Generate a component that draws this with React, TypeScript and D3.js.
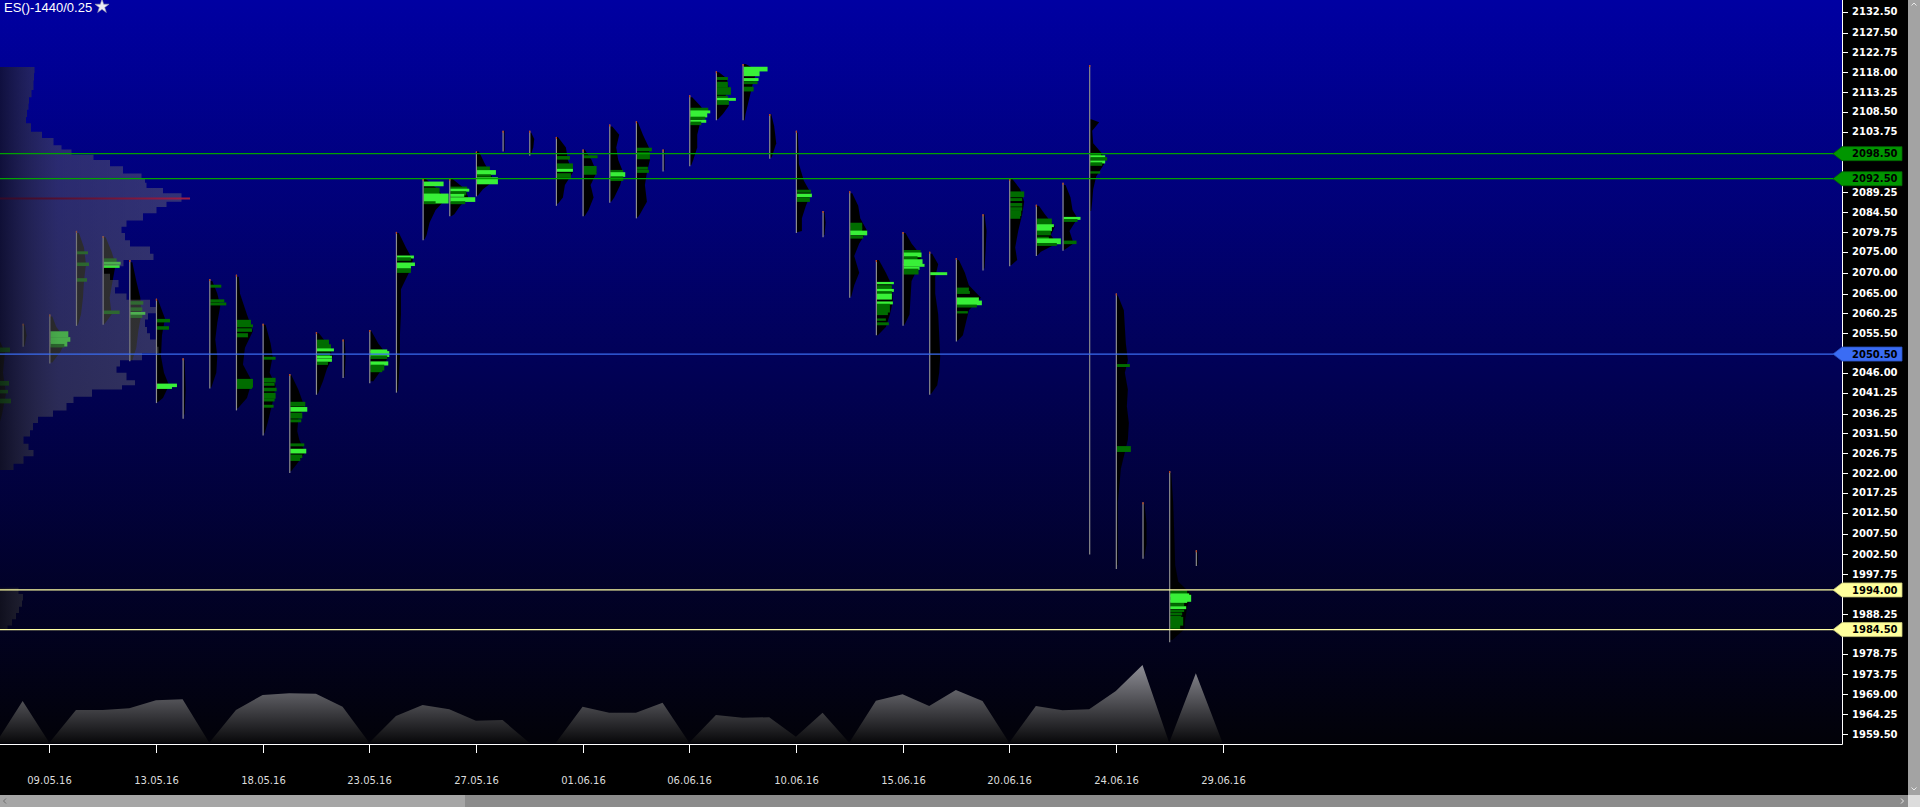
import React, { useEffect } from 'react';
import * as d3 from 'd3';

// ---------- DATA ----------
const title = 'ES()-1440/0.25';

const dates = [
  '06.05.16', '08.05.16', '09.05.16', '10.05.16', '11.05.16', '12.05.16', '13.05.16',
  '15.05.16', '16.05.16', '17.05.16', '18.05.16', '19.05.16', '20.05.16',
  '22.05.16', '23.05.16', '24.05.16', '25.05.16', '26.05.16', '27.05.16',
  '29.05.16', '30.05.16', '31.05.16', '01.06.16', '02.06.16', '03.06.16',
  '05.06.16', '06.06.16', '07.06.16', '08.06.16', '09.06.16', '10.06.16',
  '12.06.16', '13.06.16', '14.06.16', '15.06.16', '16.06.16', '17.06.16',
  '19.06.16', '20.06.16', '21.06.16', '22.06.16', '23.06.16', '24.06.16',
  '26.06.16', '27.06.16', '28.06.16', '29.06.16',
];

const tickDates = ['09.05.16', '13.05.16', '18.05.16', '23.05.16', '27.05.16', '01.06.16',
  '06.06.16', '10.06.16', '15.06.16', '20.06.16', '24.06.16', '29.06.16'];

const priceTicks = [2132.5, 2127.5, 2122.75, 2118, 2113.25, 2108.5, 2103.75, 2099, 2094,
  2089.25, 2084.5, 2079.75, 2075, 2070, 2065, 2060.25, 2055.5, 2050.75, 2046, 2041.25,
  2036.25, 2031.5, 2026.75, 2022, 2017.25, 2012.5, 2007.5, 2002.5, 1997.75, 1993, 1988.25,
  1983.5, 1978.75, 1973.75, 1969, 1964.25, 1959.5];

// daily bars (06.05 .. 28.06)
const highs = [2054, 2057.75, 2060, 2080, 2078.75, 2073, 2063.75, 2049.5, 2068.5, 2069.5,
  2057.75, 2045.75, 2055.75, 2054, 2056.25, 2079.75, 2092.5, 2092.5, 2099, 2104, 2104,
  2102.5, 2099.5, 2105.5, 2106.25, 2099.5, 2112.5, 2118.25, 2120, 2108, 2104, 2084.75,
  2089.5, 2073, 2079.75, 2075, 2073.5, 2084, 2092.5, 2086.25, 2091.5, 2119.75, 2065,
  2015, 2022.5, 2003.5];
const lows = [2032, 2052.25, 2048.25, 2057.25, 2057.5, 2048.75, 2038.75, 2035, 2042.25,
  2037, 2031, 2022, 2040.75, 2044.75, 2043.5, 2041.25, 2077.75, 2083.5, 2088.25, 2099,
  2098, 2086, 2083.5, 2086.75, 2083, 2094.25, 2095.5, 2106.5, 2106.5, 2097.25, 2079.5,
  2078.5, 2064, 2055, 2057.25, 2040.75, 2053.5, 2070.5, 2071.5, 2074, 2075.25, 2002.5,
  1999, 2001.5, 1981.5, 1999.75];

// per-bar volume profile outline: [price, volume]
const blackProfiles: [number, number][][] = [
  [[2054, 2], [2051, 8], [2046, 6], [2041, 9], [2036, 5], [2032.5, 1]],
  [[2057.5, 1], [2055, 3], [2052.5, 1]],
  [[2059.5, 2], [2057, 6], [2054, 16], [2051, 10], [2048.5, 2]],
  [[2079.5, 2], [2076, 7], [2072, 9], [2068, 7], [2064, 6], [2060, 4], [2057.5, 1]],
  [[2078.5, 2], [2075, 8], [2072, 12], [2068, 9], [2064, 6], [2060, 8], [2057.75, 1]],
  [[2072.5, 2], [2068, 6], [2064, 10], [2060, 11], [2056, 8], [2052, 6], [2049, 2]],
  [[2063.5, 1], [2059, 8], [2055, 5], [2050, 4], [2046, 7], [2043, 12], [2040, 6], [2039, 1]],
  [[2049, 1], [2042, 2], [2036, 1]],
  [[2068, 2], [2065, 7], [2062, 10], [2058, 7], [2054, 5], [2050, 7], [2046, 6], [2042.5, 1]],
  [[2069, 2], [2065, 3], [2060, 10], [2056, 16], [2052, 8], [2048, 6], [2044, 15], [2040, 10], [2037.5, 1]],
  [[2057.5, 2], [2053, 7], [2050, 9], [2046, 6], [2043, 12], [2040, 10], [2037, 7], [2034, 4], [2031.5, 1]],
  [[2045.5, 1], [2042, 8], [2038, 14], [2035, 8], [2032, 7], [2030, 9], [2027, 15], [2024, 6], [2022.5, 1]],
  [[2055.5, 2], [2053, 10], [2050, 16], [2047, 10], [2044, 6], [2041, 1]],
  [[2054, 1], [2050, 2], [2045, 1]],
  [[2056, 1], [2053, 8], [2050, 18], [2047, 12], [2044, 3]],
  [[2079.5, 2], [2076, 9], [2073, 16], [2070, 12], [2066, 4], [2060, 4], [2055, 3], [2050, 3], [2045, 2], [2041.5, 1]],
  [[2092.5, 2], [2090, 14], [2087.5, 22], [2085, 12], [2082, 6], [2079, 3], [2078, 1]],
  [[2092.5, 2], [2090, 15], [2088, 18], [2086, 10], [2084, 4], [2083.5, 1]],
  [[2099, 2], [2096, 8], [2094, 13], [2092, 17], [2090, 6], [2088.5, 1]],
  [[2104, 1], [2101, 1], [2099, 1]],
  [[2103.5, 1], [2102, 4], [2100, 3], [2098.5, 1]],
  [[2102.5, 1], [2100, 9], [2097, 11], [2094, 16], [2091, 8], [2088, 6], [2086.5, 1]],
  [[2099.5, 1], [2097, 8], [2094, 13], [2091, 7], [2088, 10], [2085, 5], [2083.5, 1]],
  [[2105, 2], [2103, 9], [2100, 6], [2097, 8], [2094, 13], [2091, 10], [2088, 4], [2087, 1]],
  [[2106, 1], [2103, 6], [2100, 12], [2097, 13], [2094, 10], [2091, 8], [2087, 10], [2084, 3], [2083.25, 1]],
  [[2099.5, 1], [2097, 1], [2094.5, 1]],
  [[2112, 2], [2110, 10], [2108, 16], [2106, 10], [2103, 7], [2100, 7], [2097, 3], [2095.75, 1]],
  [[2118, 2], [2116.5, 10], [2114, 12], [2112, 8], [2110, 12], [2108, 6], [2106.75, 1]],
  [[2120, 2], [2118.5, 14], [2116, 10], [2114, 8], [2111, 5], [2108, 2], [2106.5, 1]],
  [[2108, 1], [2105, 4], [2101, 6], [2098, 2], [2097.5, 1]],
  [[2103.5, 1], [2096, 2], [2092, 7], [2089, 14], [2086, 9], [2083, 5], [2080, 5], [2079.75, 1]],
  [[2084.5, 1], [2082, 2], [2079, 1]],
  [[2089, 2], [2086, 8], [2083, 10], [2080, 17], [2077, 9], [2074, 4], [2070, 9], [2067, 4], [2064.25, 1]],
  [[2073, 2], [2070, 9], [2067, 15], [2063, 16], [2060, 13], [2057, 9], [2055, 1]],
  [[2079.5, 2], [2077, 8], [2074, 18], [2071, 14], [2068, 8], [2064, 7], [2060, 6], [2057.5, 1]],
  [[2074.5, 2], [2072, 8], [2069, 5], [2065, 5], [2060, 8], [2055, 9], [2050, 10], [2046, 9], [2043, 7], [2041, 1]],
  [[2073, 2], [2070, 8], [2067, 12], [2064, 24], [2061, 12], [2058, 9], [2055, 6], [2053.75, 1]],
  [[2084, 1], [2080, 3], [2075, 2], [2071, 1]],
  [[2092.5, 2], [2090, 10], [2087, 14], [2084, 12], [2080, 8], [2076, 5], [2073, 7], [2071.75, 1]],
  [[2086, 2], [2084, 8], [2081, 18], [2079, 14], [2077, 20], [2075, 4], [2074.25, 1]],
  [[2091, 2], [2088, 7], [2085, 9], [2083, 14], [2080, 6], [2077, 10], [2075.5, 1]],
  [[2106.75, 1], [2106, 9], [2104, 2], [2101, 3], [2098.5, 12], [2096, 14], [2093, 6], [2090, 3], [2087, 2], [2084.75, 1]],
  [[2064.5, 1], [2061, 7], [2057, 8], [2053, 9], [2049, 11], [2046, 8], [2042, 11], [2038, 10], [2034, 12], [2030, 11], [2027, 8], [2023, 4], [2015, 1], [2000, 1]],
  [[2014.5, 1], [2010, 3], [2005, 3], [2002, 1]],
  [[2022, 1], [2015, 3], [2008, 4], [2000, 5], [1996, 8], [1993, 21], [1990, 17], [1987, 15], [1984.5, 14], [1982, 2]],
  [[2003, 1], [2001, 1], [2000, 1]],
];

// high-volume rows: [price, rows (pts), volume, bright 1 / dark 0]
const greenBars: [number, number, number, number][][] = [
  [[2051.5, 0.8, 13, 0], [2043.5, 0.8, 12, 0], [2041.5, 0.6, 11, 0], [2039.25, 0.8, 14, 0]],
  [],
  [[2055.25, 1, 18, 1], [2054, 0.8, 20, 1], [2053, 1, 17, 1], [2052.5, 0.6, 14, 0]],
  [[2074.75, 0.5, 11, 0], [2072, 0.6, 12, 0], [2068.25, 0.6, 10, 0]],
  [[2073, 0.6, 13, 0], [2072.25, 0.5, 17, 1], [2071.5, 0.5, 16, 1], [2060.5, 0.6, 16, 0]],
  [[2062.75, 0.6, 13, 0], [2061.25, 0.6, 12, 0], [2060.25, 0.5, 15, 1], [2059.5, 0.5, 12, 0]],
  [[2058.5, 0.6, 13, 0], [2056.75, 0.6, 12, 0], [2043, 0.6, 20, 1], [2042.5, 0.5, 15, 1]],
  [],
  [[2066.75, 0.5, 11, 0], [2063.25, 0.5, 14, 0], [2062.5, 0.5, 16, 0]],
  [[2058, 1, 14, 0], [2057.25, 0.5, 16, 0], [2056.25, 0.6, 15, 0], [2055, 0.7, 11, 0], [2043.5, 1.5, 16, 0], [2042.5, 0.5, 15, 0]],
  [[2049.5, 0.5, 12, 0], [2044.25, 0.8, 12, 0], [2043.25, 0.5, 11, 0], [2042, 0.6, 13, 0], [2040.5, 1, 12, 0], [2039.5, 0.5, 11, 0], [2038, 0.5, 10, 0]],
  [[2038.5, 0.8, 15, 0], [2037.25, 0.8, 17, 1], [2035.75, 1, 12, 0], [2034.5, 0.5, 11, 0], [2028.75, 0.5, 14, 0], [2027.25, 0.8, 16, 1], [2026, 0.6, 12, 0], [2025.25, 0.5, 10, 0]],
  [[2053.25, 1, 12, 0], [2052, 1.2, 14, 0], [2051.5, 0.5, 17, 1], [2050.25, 0.8, 13, 0], [2049.75, 0.5, 15, 1], [2049, 0.5, 15, 1], [2048.25, 0.5, 11, 0]],
  [],
  [[2051.25, 0.5, 17, 1], [2050.5, 1, 19, 1], [2049.75, 0.6, 17, 0], [2048.25, 0.7, 18, 1], [2047.25, 1, 14, 0], [2046.5, 0.5, 12, 0]],
  [[2073.75, 0.5, 17, 1], [2073.25, 0.6, 14, 0], [2072, 0.6, 18, 1], [2071.25, 0.6, 14, 1], [2070.5, 0.8, 14, 0]],
  [[2091.25, 0.8, 20, 1], [2089.5, 1.2, 16, 0], [2087.75, 1.7, 25, 1], [2086.75, 0.5, 12, 0]],
  [[2090.25, 0.5, 17, 0], [2089.75, 0.5, 19, 1], [2089, 0.7, 16, 0], [2088.5, 0.5, 14, 1], [2087.5, 0.8, 25, 1], [2086.75, 0.5, 15, 0]],
  [[2095, 0.6, 13, 0], [2094, 0.8, 19, 1], [2093.25, 0.4, 14, 0], [2092, 1.2, 21, 1]],
  [],
  [],
  [[2097.5, 0.6, 13, 0], [2095.25, 1.3, 16, 0], [2094.5, 0.5, 16, 1], [2093.25, 0.8, 14, 0]],
  [[2097.75, 0.5, 14, 0], [2094.5, 1.5, 13, 0]],
  [[2094.25, 0.5, 13, 0], [2093.5, 0.8, 15, 1], [2092.5, 0.8, 13, 0]],
  [[2099.5, 0.6, 15, 0], [2098, 1.2, 13, 0], [2095, 0.5, 11, 0], [2094.25, 0.5, 12, 0]],
  [],
  [[2109, 0.7, 18, 0], [2108.5, 0.5, 20, 1], [2107.75, 0.8, 17, 1], [2107, 0.5, 15, 0], [2106.25, 0.5, 16, 1], [2105.75, 0.6, 11, 0]],
  [[2116.5, 0.5, 11, 0], [2115, 1, 11, 0], [2113.5, 1.3, 14, 0], [2112, 0.5, 11, 0], [2111.5, 0.5, 19, 1], [2110.75, 0.8, 12, 0]],
  [[2118.75, 0.8, 24, 1], [2117.75, 1, 16, 1], [2116.25, 0.5, 15, 1], [2115.5, 0.5, 14, 0], [2114.25, 0.4, 10, 0], [2113.75, 0.5, 10, 0]],
  [],
  [[2089.5, 0.5, 14, 0], [2088.5, 0.6, 15, 1], [2087.5, 0.8, 13, 0]],
  [],
  [[2081.25, 1, 12, 0], [2080.25, 0.8, 12, 0], [2079.5, 0.8, 17, 1], [2078.5, 0.5, 13, 0]],
  [[2067.5, 0.4, 17, 1], [2066.5, 0.7, 15, 0], [2065.75, 0.5, 17, 1], [2065, 0.8, 15, 0], [2064.25, 1, 15, 1], [2062.75, 0.5, 16, 1], [2061.5, 1.5, 13, 0], [2060.25, 0.6, 11, 0], [2058.75, 0.4, 9, 0], [2057.75, 0.5, 12, 0]],
  [[2075, 0.6, 17, 0], [2074.25, 0.8, 18, 1], [2073.5, 0.6, 14, 0], [2072.5, 1, 19, 1], [2071.75, 0.5, 21, 1], [2071, 0.5, 16, 1], [2070.25, 1, 15, 0]],
  [[2069.75, 0.5, 17, 1]],
  [[2066, 0.6, 12, 0], [2065.25, 0.5, 13, 0], [2063.5, 0.8, 22, 1], [2062.75, 0.8, 25, 1], [2062, 0.5, 20, 0], [2060.5, 0.4, 11, 0]],
  [],
  [[2088.75, 1, 14, 0], [2087.5, 0.5, 12, 0], [2086.25, 0.6, 12, 0], [2085.25, 0.6, 12, 0], [2084.25, 1, 11, 0], [2083.25, 0.5, 10, 0]],
  [[2082.25, 1, 15, 0], [2081.25, 0.5, 17, 1], [2080.5, 0.8, 15, 1], [2079.5, 0.8, 14, 0], [2078.25, 0.5, 12, 0], [2077.5, 1, 24, 1], [2076.75, 0.5, 20, 0]],
  [[2083, 0.5, 17, 1], [2082.5, 0.5, 14, 0], [2077.25, 0.6, 13, 0]],
  [[2098.25, 0.6, 11, 0], [2097.75, 0.5, 15, 1], [2097.25, 0.6, 17, 0], [2096.5, 0.5, 15, 1], [2096, 0.6, 12, 0], [2094, 0.4, 10, 0]],
  [[2047.75, 0.5, 13, 0], [2027.75, 1, 14, 0]],
  [],
  [[1993.5, 0.6, 17, 0], [1992.75, 0.6, 19, 1], [1992, 1.2, 21, 1], [1991.25, 0.5, 17, 1], [1990.5, 0.5, 14, 0], [1989.75, 0.5, 16, 1], [1989, 0.4, 14, 0], [1988.25, 0.5, 12, 0], [1987.5, 0.4, 11, 0], [1986.5, 1.5, 13, 0], [1985.25, 0.8, 10, 0]],
  [],
];

// daily volume (K contracts), 06.05 .. 29.06
const volumes = [0, 1880, 0, 1470, 1470, 1550, 1910, 1955, 0, 1470, 2150, 2225, 2205, 1620,
  0, 1200, 1700, 1505, 990, 1020, 0, 0, 1620, 1350, 1350, 1800, 0, 1250, 1125, 1145, 270,
  1350, 0, 1890, 2180, 1650, 2375, 1880, 0, 1650, 1460, 1505, 2330, 3500, 0, 3125, 0];

// composite volume profile: [price, volume]
const compositeProfile: [number, number][] = [
  [2119.25, 165], [2117.75, 180], [2116, 160], [2113.75, 175], [2112, 140], [2110.5, 150],
  [2109, 135], [2107.25, 135], [2105.75, 125], [2103.75, 185], [2102.25, 235], [2100.5, 300],
  [2099.5, 315], [2098.25, 400], [2097, 535], [2095.5, 565], [2093.75, 665], [2092.5, 750],
  [2091.5, 700], [2090.25, 765], [2089, 865], [2087.75, 950], [2087, 865], [2085.75, 800],
  [2084.25, 765], [2082.5, 665], [2081, 600], [2079.5, 615], [2077.75, 635], [2076.25, 665],
  [2074.5, 835], [2073, 700], [2071.5, 535], [2069.75, 500], [2068.25, 600], [2066.5, 585],
  [2065, 565], [2063.5, 700], [2061.75, 800], [2060.25, 765], [2058.75, 715], [2057, 735],
  [2055.5, 735], [2054, 765], [2052.25, 800], [2050.75, 785], [2049, 635], [2047.5, 565],
  [2046, 600], [2044.25, 665], [2043, 685], [2042, 535], [2040.25, 385], [2038.75, 350],
  [2037, 315], [2035.5, 215], [2034, 165], [2032.25, 165], [2030.75, 135], [2029, 100],
  [2027.5, 185], [2026, 150], [2024.25, 85], [2022.75, 50],
];
const compositeProfileLow: [number, number][] = [
  [1994.5, 75], [1993, 110], [1991.5, 120], [1990, 100], [1988.5, 90], [1987, 70],
  [1985.5, 50], [1984.5, 25],
];
const pocPrice = 2087.75;

const levelPrices = [2098.5, 2092.5, 2050.5, 1994.0, 1984.5];
const levelKinds = ['green', 'green', 'blue', 'yellow', 'yellow'];

// ---------- STYLE ----------
const levelStyle: Record<string, { line: string; fill: string; stroke: string }> = {
  green: { line: '#00a200', fill: '#009600', stroke: '#006400' },
  blue: { line: '#3a6cf0', fill: '#3a6cf4', stroke: '#2a50c0' },
  yellow: { line: '#ffffa4', fill: '#ffff9c', stroke: '#c8c878' },
};

const FONT = '"DejaVu Sans", Verdana, sans-serif';

export default function App() {
  useEffect(() => {
    document.body.style.margin = '0';
    document.body.style.overflow = 'hidden';
    document.body.style.background = '#000';
  }, []);

  const W = 1920;
  const H = 807;
  const plotR = 1842;
  const plotB = 744;

  const x = d3.scalePoint<string>().domain(dates).range([-4.02, 1222.5]);
  const y = d3.scaleLinear().domain([1957.1, 2135.3]).range([plotB, 0]);
  const yVol = d3.scaleLinear().domain([0, 3500]).range([742.7, 665]);
  const profW = d3.scaleLinear().domain([0, 10]).range([0, 10]);
  const compW = d3.scaleLinear().domain([0, 950]).range([0, 190]);
  const fmt = d3.format('.2f');

  // tick labels fully or mostly covered by a level tag are left out
  const visibleTicks = priceTicks.filter((t) => levelPrices.every((p) => Math.abs(y(p) - y(t)) > 11));

  const volArea = d3.area<number>()
    .x((_, i) => x(dates[i]) as number)
    .y0(yVol(0))
    .y1((d) => yVol(d));

  const compArea = d3.area<[number, number]>()
    .y((d) => y(d[0]))
    .x0(0)
    .x1((d) => compW(d[1]))
    .curve(d3.curveStep);

  const star = d3.symbol().type(d3.symbolStar).size(62)();

  return (
    <svg width={W} height={H} style={{ position: 'absolute', left: 0, top: 0, display: 'block' }}>
      <defs>
        <linearGradient id="bg" x1="0" y1="0" x2="0" y2={plotB} gradientUnits="userSpaceOnUse">
          <stop offset="0" stopColor="rgb(0,0,162)" />
          <stop offset="1" stopColor="rgb(2,2,8)" />
        </linearGradient>
        <linearGradient id="volg" x1="0" y1="660" x2="0" y2="743" gradientUnits="userSpaceOnUse">
          <stop offset="0" stopColor="rgb(150,150,158)" />
          <stop offset="1" stopColor="rgb(8,8,10)" />
        </linearGradient>
        <linearGradient id="compg" x1="0" y1="0" x2="195" y2="0" gradientUnits="userSpaceOnUse">
          <stop offset="0" stopColor="rgb(22,22,28)" stopOpacity="0.7" />
          <stop offset="0.3" stopColor="rgb(90,90,96)" stopOpacity="0.47" />
          <stop offset="1" stopColor="rgb(112,112,116)" stopOpacity="0.46" />
        </linearGradient>
        <linearGradient id="pocg" x1="0" y1="0" x2="195" y2="0" gradientUnits="userSpaceOnUse">
          <stop offset="0" stopColor="rgb(50,10,40)" />
          <stop offset="1" stopColor="rgb(160,30,70)" />
        </linearGradient>
        <clipPath id="plotclip">
          <rect x={0} y={0} width={plotR} height={plotB} />
        </clipPath>
      </defs>

      <rect x={0} y={0} width={W} height={H} fill="#000" />
      <rect x={0} y={0} width={plotR} height={plotB} fill="url(#bg)" />

      <g clipPath="url(#plotclip)">
        {/* volume */}
        <path d={volArea(volumes) || ''} fill="url(#volg)" />

        {/* bars */}
        {highs.map((hi, i) => {
          const d = dates[i];
          const xb = x(d) as number;
          const prof = blackProfiles[i];
          const pa = d3.area<[number, number]>()
            .y((p) => y(p[0]))
            .x0(xb + 1)
            .x1((p) => xb + 1 + profW(p[1]))
            .curve(d3.curveLinear);
          return (
            <g key={d}>
              <path d={pa(prof) || ''} fill="#000" />
              {greenBars[i].map((g, k) => {
                const y0 = y(g[0] + g[1] * 0.7);
                const y1 = y(g[0] - g[1] * 0.7);
                return (
                  <rect key={k} x={xb + 1} y={y0} width={profW(g[2])}
                    height={Math.max(2, y1 - y0)}
                    fill={g[3] ? '#38f038' : '#006c00'} />
                );
              })}
              <line x1={xb + 0.5} x2={xb + 0.5} y1={y(hi)} y2={y(lows[i])} stroke="#8c8c8c" strokeWidth={1.2} />
              <line x1={xb + 0.5} x2={xb + 0.5} y1={y(hi)} y2={y(hi) + 2} stroke="#c04010" strokeWidth={1.2} />
            </g>
          );
        })}

        {/* composite profile */}
        <path d={compArea(compositeProfile) || ''} fill="url(#compg)" />
        <path d={compArea(compositeProfileLow) || ''} fill="url(#compg)" />
        <line x1={0} x2={compW(950)} y1={y(pocPrice)} y2={y(pocPrice)} stroke="url(#pocg)" strokeWidth={2} />

        {/* levels */}
        {levelPrices.map((p, i) => (
          <line key={p} x1={0} x2={plotR} y1={y(p)} y2={y(p)}
            stroke={levelStyle[levelKinds[i]].line} strokeWidth={1.3} />
        ))}
      </g>

      {/* axes */}
      <line x1={plotR + 0.5} x2={plotR + 0.5} y1={0} y2={plotB + 0.5} stroke="#fff" strokeWidth={1} />
      <line x1={0} x2={plotR + 0.5} y1={plotB + 0.5} y2={plotB + 0.5} stroke="#fff" strokeWidth={1} />

      {priceTicks.map((t) => (
        <line key={'tk' + t} x1={plotR} x2={plotR + 6} y1={Math.round(y(t)) + 0.5} y2={Math.round(y(t)) + 0.5} stroke="#fff" />
      ))}
      {visibleTicks.map((t) => (
        <text key={'tl' + t} x={1852} y={y(t)} dy="0.36em" fill="#fff" fontFamily={FONT} fontWeight="bold" fontSize={10}>
          {fmt(t)}
        </text>
      ))}

      {tickDates.map((t) => {
        const xx = Math.round(x(t) as number) + 0.5;
        return (
          <g key={t}>
            <line x1={xx} x2={xx} y1={plotB} y2={plotB + 9} stroke="#fff" />
            <text x={xx} y={780} dy="0.36em" textAnchor="middle" fill="#dcdcdc" fontFamily={FONT} fontSize={10}>
              {t}
            </text>
          </g>
        );
      })}

      {/* level tags */}
      {levelPrices.map((p, i) => {
        const st = levelStyle[levelKinds[i]];
        const yy = y(p);
        const pts = [[1833, yy], [1842, yy - 7], [1902, yy - 7], [1902, yy + 7], [1842, yy + 7]];
        return (
          <g key={'tag' + p}>
            <path d={(d3.line()(pts as [number, number][]) || '') + 'Z'} fill={st.fill} stroke={st.stroke} strokeWidth={0.8} />
            <text x={1852} y={yy} dy="0.36em" fill="#000" fontFamily={FONT} fontWeight="bold" fontSize={10}>
              {fmt(p)}
            </text>
          </g>
        );
      })}

      {/* title */}
      <text x={4} y={12} fill="#fff" fontFamily='"Liberation Sans", Arial, sans-serif' fontSize={13}>
        {title}
      </text>
      <path d={star || ''} transform="translate(102,6.5)" fill="#ececf4" stroke="#9a9ab0" strokeWidth={0.6} />

      {/* scrollbars */}
      <rect x={1908} y={0} width={12} height={795} fill="#a3a3a3" />
      <rect x={0} y={795} width={465} height={12} fill="#a6a6a6" />
      <rect x={465} y={795} width={1443} height={12} fill="#8c8c8c" />
      <rect x={1908} y={795} width={12} height={12} fill="#dcdcdc" />
      <path d="M1911.5,5.5 L1914,3 L1916.5,5.5" fill="none" stroke="#e8e8e8" strokeWidth={1} />
      <path d="M1911.5,787.5 L1914,790 L1916.5,787.5" fill="none" stroke="#e8e8e8" strokeWidth={1} />
      <path d="M6,798.5 L3.5,801 L6,803.5" fill="none" stroke="#707070" strokeWidth={1} />
      <path d="M1901,798.5 L1903.5,801 L1901,803.5" fill="none" stroke="#e8e8e8" strokeWidth={1} />
    </svg>
  );
}
